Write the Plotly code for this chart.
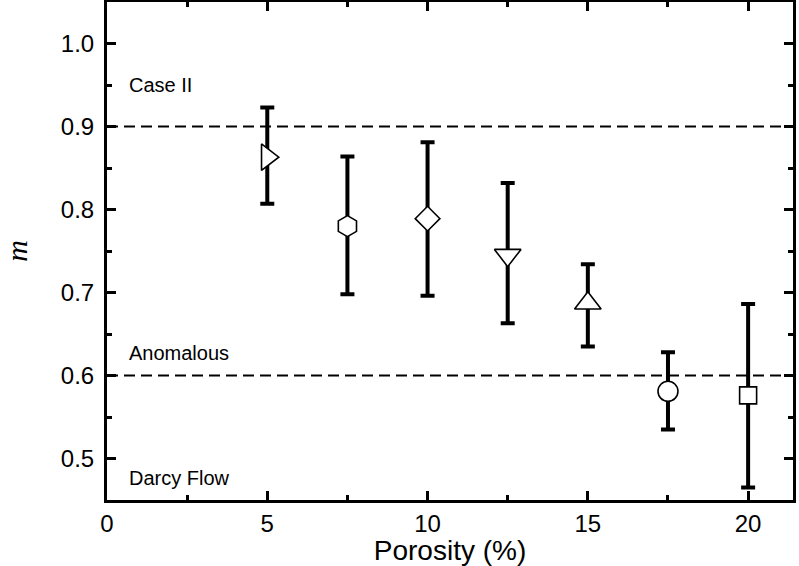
import plotly.graph_objects as go

porosity = [5, 7.5, 10, 12.5, 15, 17.5, 20]
m_values = [0.863, 0.780, 0.789, 0.745, 0.687, 0.581, 0.576]
err_top = [0.923, 0.864, 0.881, 0.832, 0.734, 0.628, 0.686]
err_bottom = [0.807, 0.698, 0.696, 0.663, 0.635, 0.535, 0.465]
symbols = ["triangle-right", "hexagon", "diamond", "triangle-down", "triangle-up", "circle", "square"]
sizes = [23, 21, 19, 23, 23, 20, 17]
regime_levels = [0.9, 0.6]
regime_labels = ["Case II", "Anomalous", "Darcy Flow"]
regime_label_y = [0.95, 0.627, 0.476]

plus = [t - v for t, v in zip(err_top, m_values)]
minus = [v - b for v, b in zip(m_values, err_bottom)]

fig = go.Figure()
for lvl in regime_levels:
    fig.add_shape(type="line", xref="paper", x0=0, x1=1, yref="y", y0=lvl, y1=lvl,
                  line=dict(color="black", width=2, dash="11px,6px"), layer="below")

# error bars
fig.add_trace(go.Scatter(
    x=porosity, y=m_values, mode="markers",
    marker=dict(size=1, color="rgba(0,0,0,0)"),
    error_y=dict(type="data", symmetric=False, array=plus, arrayminus=minus,
                 color="black", thickness=4, width=7),
    showlegend=False, hoverinfo="skip",
))
# markers on top
fig.add_trace(go.Scatter(
    x=porosity, y=m_values, mode="markers",
    marker=dict(symbol=symbols, size=sizes, color="white", opacity=1,
                line=dict(color="black", width=1.6)),
    showlegend=False, cliponaxis=False,
))

for lab, yy in zip(regime_labels, regime_label_y):
    fig.add_annotation(x=0.62, y=yy, xref="x", yref="y", text=lab, showarrow=False,
                       xanchor="left", yanchor="middle",
                       font=dict(family="Liberation Sans, Arial", size=20, color="black"))

fig.update_xaxes(range=[0, 21.4], tickvals=[0, 5, 10, 15, 20], ticks="inside", ticklen=9,
                 tickwidth=3, tickcolor="black", showline=True, linewidth=3, linecolor="black",
                 mirror="allticks", showgrid=False, zeroline=False, automargin=False,
                 minor=dict(tickvals=[2.5, 7.5, 12.5, 17.5], ticks="inside", ticklen=5,
                            tickwidth=3, tickcolor="black"),
                 tickfont=dict(family="Liberation Sans, Arial", size=24, color="black"),
                 title=dict(text="Porosity (%)", standoff=4,
                            font=dict(family="Liberation Sans, Arial", size=28, color="black")))
fig.update_yaxes(range=[0.45, 1.05], tickvals=[0.5, 0.6, 0.7, 0.8, 0.9, 1.0],
                 ticktext=["0.5", "0.6", "0.7", "0.8", "0.9", "1.0"],
                 ticks="inside", ticklen=9, ticklabelstandoff=5,
                 tickwidth=3, tickcolor="black", showline=True, linewidth=3, linecolor="black",
                 mirror="allticks", showgrid=False, zeroline=False, automargin=False,
                 minor=dict(tickvals=[0.55, 0.65, 0.75, 0.85, 0.95], ticks="inside", ticklen=5,
                            tickwidth=3, tickcolor="black"),
                 tickfont=dict(family="Liberation Sans, Arial", size=24, color="black"),
                 title=dict(text="<i>m</i>", standoff=28,
                            font=dict(family="Liberation Serif, Times New Roman", size=30, color="black")))

fig.update_layout(width=799, height=566, margin=dict(l=107, r=6, t=2, b=66),
                  plot_bgcolor="white", paper_bgcolor="white")

fig.write_html("out.html", config={"displayModeBar": False},
               post_script="document.body.style.margin='0px';")
